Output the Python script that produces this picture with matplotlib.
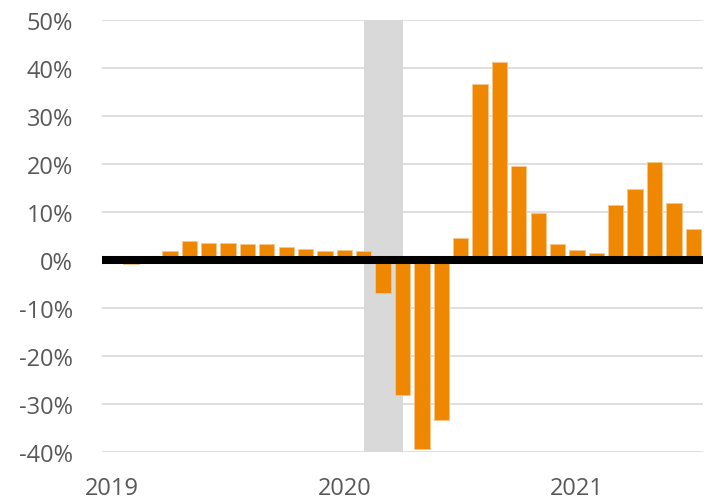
import numpy as np
import matplotlib
matplotlib.use("Agg")
import matplotlib.pyplot as plt

plt.rcParams['font.family'] = ['Open Sans', 'DejaVu Sans']

# monthly values, Jan 2019 .. Jul 2021 (percent)
months = np.arange(31)
values = [0.0, -0.9, 0.0, 1.8, 4.0, 3.6, 3.6, 3.3, 3.3, 2.8, 2.3, 1.8,
          2.0, 1.8, -6.8, -28.2, -39.4, -33.3, 4.6, 36.7, 41.3, 19.6, 9.8,
          3.4, 2.1, 1.4, 11.5, 14.7, 20.4, 11.9, 6.5]
year_pos = [0, 12, 24]
year_labels = ['2019', '2020', '2021']
recession = (13, 15)   # Feb 2020 .. Apr 2020
yticks = np.arange(-40, 51, 10)

fig = plt.figure(figsize=(7.09, 5.02), dpi=100)
ax = fig.add_axes([102/709, 1 - 453/502, 601/709, 432/502])

ax.set_ylim(-40, 50)
ax.set_xlim(-0.5, 30.5)
ax.set_yticks(yticks)
ax.set_yticklabels([f'{v}%' for v in yticks])
ax.set_xticks(year_pos)
ax.set_xticklabels(year_labels)
ax.yaxis.grid(True, color='#d9d9d9', linewidth=1.2, zorder=0)
ax.set_axisbelow(True)

ax.axvspan(recession[0], recession[1], color='#d9d9d9', zorder=1, linewidth=0)
ax.bar(months, values, width=0.79, color='#f08700', edgecolor='#f8c68a',
       linewidth=0.6, zorder=2)
ax.axhline(0, color='black', linewidth=5.8, zorder=3)

for s in ax.spines.values():
    s.set_visible(False)
ax.tick_params(axis='both', length=0, labelsize=17, colors='#595959')
ax.tick_params(axis='y', pad=21)
ax.tick_params(axis='x', pad=17)

fig.savefig('out.png', dpi=100)
